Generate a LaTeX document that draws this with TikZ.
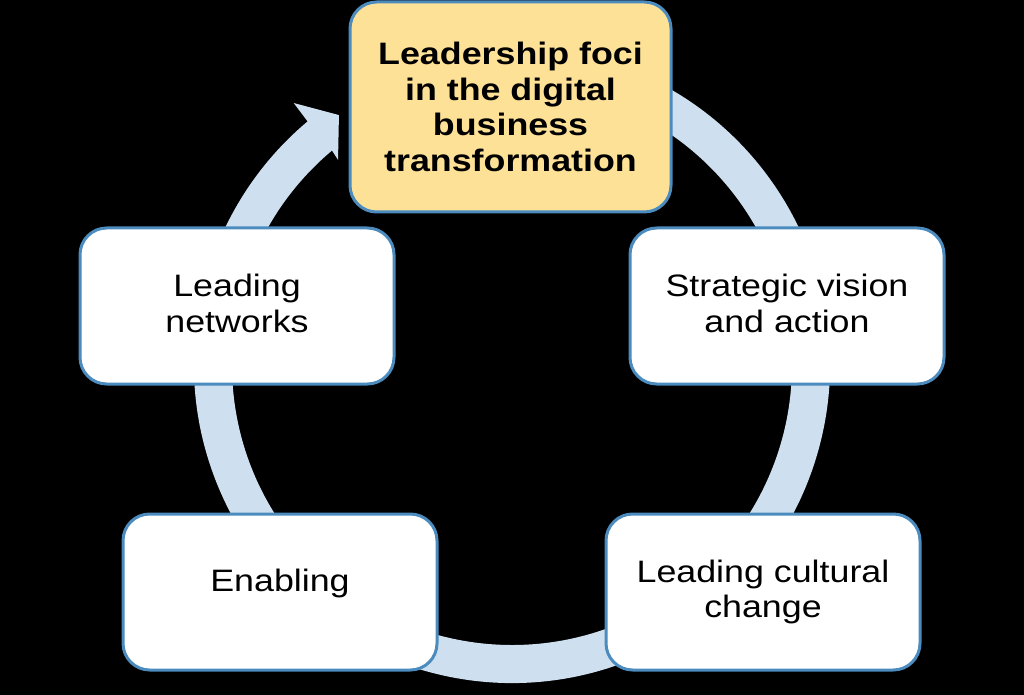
\documentclass[tikz,border=0pt]{standalone}
\usepackage{fontspec}
\setmainfont[FakeStretch=1.155]{Liberation Sans}
\definecolor{ringc}{HTML}{CEE0F0}
\definecolor{edgec}{HTML}{4B8BBE}
\definecolor{hubc}{HTML}{FDE196}
\begin{document}
\begin{tikzpicture}[x=0.75pt,y=-0.75pt,
  box/.style={draw=edgec, line width=2.25pt, rounded corners=20pt, fill=white,
    align=center, font=\fontsize{23.25}{26.8}\selectfont,
    minimum width=235.5pt, minimum height=117pt, inner sep=0pt},
  hubbox/.style={box, fill=hubc, font=\fontsize{23.25}{26.8}\selectfont\bfseries,
    minimum width=240.75pt, minimum height=157.5pt}]
\fill[black] (0,0) rectangle (1024,695);
\useasboundingbox (0,0) rectangle (1024,695);
\begin{scope}[shift={(512,365)}, yscale=-1]
  \fill[ringc] (75:318) arc[start angle=75, end angle=-230, radius=318]
    -- (129.8:341) -- (124.7:304) -- (130.3:269) -- (130:280)
    arc[start angle=130, end angle=435, radius=280] -- cycle;
\end{scope}
\node[hubbox] (hub) at (510.5,107) {Leadership foci\\in the digital\\business\\transformation};
\node[box, text depth=4pt] (strat) at (787,306) {Strategic vision\\and action};
\node[box, text depth=4pt] (net) at (237,306) {Leading\\networks};
\node[box] (cult) at (763,592) {Leading cultural\\change};
\node[box, text depth=17pt] (enab) at (280,592) {Enabling};
\end{tikzpicture}
\end{document}
